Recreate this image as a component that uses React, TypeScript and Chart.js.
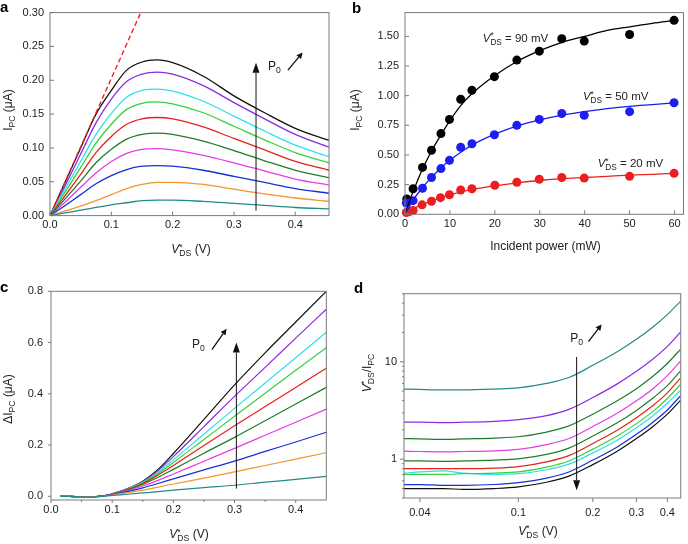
import React, { useEffect, useRef } from 'react';
import { Chart, registerables } from 'chart.js';
Chart.register(...registerables);

const FONT = '"Liberation Sans", Arial, Helvetica, sans-serif';
const TXT = '#222222';
const FRAME = '#7a7a7a';

const C_TEAL = '#238a8a';
const C_ORANGE = '#f5952a';
const C_BLUE = '#1530d6';
const C_MAGENTA = '#e63ce6';
const C_DKGREEN = '#1f7d28';
const C_RED = '#e3221c';
const C_GREEN = '#35d23c';
const C_CYAN = '#2ee0ea';
const C_PURPLE = '#8a2be2';
const C_BLACK = '#111111';

// ---------- panel a ----------
const A_X = [0, 0.025, 0.05, 0.075, 0.1, 0.125, 0.15, 0.175, 0.2, 0.25, 0.3, 0.35, 0.4, 0.455];
const A_TEAL = [0, 0.004, 0.008, 0.012, 0.016, 0.019, 0.022, 0.023, 0.023, 0.021, 0.018, 0.015, 0.012, 0.010];
const A_ORANGE = [0, 0.007, 0.014, 0.022, 0.031, 0.040, 0.046, 0.049, 0.049, 0.046, 0.039, 0.032, 0.026, 0.021];
const A_BLUE = [0, 0.015, 0.031, 0.047, 0.059, 0.068, 0.073, 0.074, 0.073, 0.067, 0.058, 0.049, 0.040, 0.033];
const A_MAGENTA = [0, 0.020, 0.042, 0.063, 0.080, 0.092, 0.098, 0.099, 0.097, 0.089, 0.078, 0.066, 0.054, 0.045];
const A_DKGREEN = [0, 0.025, 0.051, 0.078, 0.098, 0.113, 0.120, 0.122, 0.120, 0.110, 0.096, 0.081, 0.067, 0.056];
const A_RED = [0, 0.030, 0.061, 0.093, 0.117, 0.135, 0.143, 0.145, 0.143, 0.131, 0.114, 0.097, 0.080, 0.067];
const A_GREEN = [0, 0.035, 0.071, 0.107, 0.135, 0.157, 0.166, 0.168, 0.165, 0.152, 0.132, 0.112, 0.093, 0.078];
const A_CYAN = [0, 0.040, 0.080, 0.120, 0.151, 0.175, 0.185, 0.187, 0.184, 0.169, 0.147, 0.125, 0.104, 0.087];
const A_PURPLE = [0, 0.045, 0.091, 0.137, 0.172, 0.198, 0.209, 0.212, 0.209, 0.192, 0.167, 0.143, 0.120, 0.101];
const A_BLACK = [0, 0.050, 0.100, 0.150, 0.185, 0.215, 0.227, 0.230, 0.226, 0.206, 0.177, 0.152, 0.129, 0.111];
const A_DASH_X = [0, 0.148];
const A_DASH_Y = [0, 0.30];
const A_XTICKS = [0, 0.1, 0.2, 0.3, 0.4];
const A_YTICKS = [0, 0.05, 0.1, 0.15, 0.2, 0.25, 0.3];

// ---------- panel b ----------
const B_P_BLACK = [0.4, 1.8, 3.9, 5.9, 8, 9.9, 12.4, 14.9, 19.9, 24.9, 29.9, 34.9, 39.9, 50, 59.9];
const B_I_BLACK = [0.13, 0.215, 0.395, 0.54, 0.68, 0.80, 0.97, 1.045, 1.16, 1.30, 1.375, 1.48, 1.46, 1.515, 1.635];
const B_P_BLUE = [0.3, 1.8, 3.9, 5.9, 8, 9.9, 12.4, 14.9, 19.9, 24.9, 29.9, 34.9, 39.9, 50, 59.9];
const B_I_BLUE = [0.095, 0.115, 0.22, 0.31, 0.385, 0.455, 0.565, 0.595, 0.67, 0.75, 0.80, 0.85, 0.835, 0.865, 0.94];
const B_P_RED = [0.3, 1.0, 1.8, 3.8, 5.9, 7.9, 9.9, 12.4, 14.9, 20, 24.9, 29.9, 34.9, 39.9, 50, 59.9];
const B_I_RED = [0.015, 0.022, 0.032, 0.08, 0.11, 0.14, 0.165, 0.205, 0.215, 0.245, 0.27, 0.295, 0.31, 0.305, 0.32, 0.345];
const B_FIT_X = [0, 1, 2, 4, 6, 8, 10, 12.5, 15, 20, 25, 30, 35, 40, 45, 50, 55, 60];
const B_FIT_BLACK = [0, 0.11, 0.21, 0.39, 0.54, 0.67, 0.79, 0.92, 1.02, 1.17, 1.29, 1.38, 1.45, 1.50, 1.55, 1.58, 1.61, 1.635];
const B_FIT_BLUE = [0, 0.065, 0.13, 0.23, 0.315, 0.39, 0.455, 0.525, 0.585, 0.675, 0.745, 0.795, 0.835, 0.865, 0.89, 0.91, 0.925, 0.94];
const B_FIT_RED = [0, 0.027, 0.05, 0.085, 0.115, 0.14, 0.163, 0.19, 0.21, 0.24, 0.265, 0.285, 0.30, 0.31, 0.32, 0.33, 0.337, 0.345];
const B_XTICKS = [0, 10, 20, 30, 40, 50, 60];
const B_YTICKS = [0, 0.25, 0.5, 0.75, 1.0, 1.25, 1.5];

// ---------- panel c ----------
const C_X = [0.015, 0.03, 0.05, 0.07, 0.09, 0.1, 0.125, 0.15, 0.175, 0.2, 0.25, 0.3, 0.35, 0.4, 0.45];
const C_TEALV = [0, 0, -0.003, -0.002, 0.001, 0.003, 0.008, 0.013, 0.018, 0.024, 0.034, 0.043, 0.055, 0.066, 0.078];
const C_ORANGEV = [0, 0, -0.003, -0.002, 0.002, 0.005, 0.014, 0.024, 0.036, 0.048, 0.071, 0.095, 0.120, 0.145, 0.170];
const C_BLUEV = [0, 0, -0.003, -0.002, 0.003, 0.006, 0.018, 0.033, 0.050, 0.068, 0.103, 0.137, 0.175, 0.212, 0.250];
const C_MAGENTAV = [0, 0, -0.003, -0.002, 0.003, 0.007, 0.021, 0.040, 0.062, 0.087, 0.137, 0.187, 0.238, 0.289, 0.340];
const C_DKGREENV = [0, 0, -0.003, -0.002, 0.003, 0.008, 0.024, 0.046, 0.074, 0.105, 0.168, 0.230, 0.295, 0.360, 0.425];
const C_REDV = [0, 0, -0.003, -0.002, 0.004, 0.008, 0.026, 0.050, 0.083, 0.120, 0.198, 0.275, 0.350, 0.425, 0.500];
const C_GREENV = [0, 0, -0.003, -0.002, 0.004, 0.009, 0.027, 0.053, 0.089, 0.132, 0.222, 0.312, 0.402, 0.492, 0.580];
const C_CYANV = [0, 0, -0.003, -0.002, 0.004, 0.009, 0.028, 0.055, 0.094, 0.142, 0.243, 0.343, 0.442, 0.541, 0.640];
const C_PURPLEV = [0, 0, -0.003, -0.002, 0.004, 0.010, 0.029, 0.057, 0.100, 0.155, 0.272, 0.390, 0.503, 0.617, 0.730];
const C_BLACKV = [0, 0, -0.003, -0.002, 0.004, 0.010, 0.030, 0.059, 0.105, 0.167, 0.300, 0.435, 0.560, 0.680, 0.800];
const C_XTICKS = [0, 0.1, 0.2, 0.3, 0.4];
const C_XMINOR = [0.05, 0.15, 0.25, 0.35];
const C_YTICKS = [0, 0.2, 0.4, 0.6, 0.8];

// ---------- panel d ----------
const D_X = [0.0345, 0.04, 0.05, 0.06, 0.08, 0.1, 0.13, 0.16, 0.2, 0.25, 0.3, 0.35, 0.4, 0.453];
const D_TEAL = [5.25, 5.2, 5.15, 5.15, 5.25, 5.4, 6.0, 6.9, 9.2, 12.6, 17.0, 22.8, 30.5, 42.0];
const D_PURPLE = [2.4, 2.4, 2.38, 2.4, 2.45, 2.55, 2.8, 3.25, 4.3, 5.9, 8.0, 10.7, 14.4, 20.3];
const D_DKGREEN1 = [1.63, 1.62, 1.6, 1.62, 1.65, 1.7, 1.9, 2.2, 2.9, 3.95, 5.3, 7.1, 9.6, 13.5];
const D_MAGENTA = [1.21, 1.2, 1.19, 1.2, 1.22, 1.26, 1.41, 1.63, 2.17, 2.95, 3.98, 5.3, 7.2, 10.2];
const D_DKGREEN2 = [0.96, 0.96, 0.95, 0.96, 0.98, 1.01, 1.12, 1.3, 1.73, 2.35, 3.17, 4.25, 5.7, 8.1];
const D_RED = [0.8, 0.8, 0.8, 0.8, 0.81, 0.84, 0.94, 1.09, 1.45, 1.97, 2.66, 3.56, 4.8, 6.85];
const D_GREEN = [0.7, 0.7, 0.7, 0.71, 0.72, 0.74, 0.83, 0.96, 1.27, 1.72, 2.32, 3.1, 4.2, 5.9];
const D_CYAN = [0.72, 0.74, 0.76, 0.72, 0.70, 0.71, 0.78, 0.89, 1.16, 1.56, 2.1, 2.8, 3.75, 5.1];
const D_BLUE = [0.55, 0.55, 0.54, 0.54, 0.55, 0.575, 0.64, 0.74, 0.98, 1.33, 1.8, 2.4, 3.2, 4.5];
const D_BLACK = [0.5, 0.5, 0.5, 0.49, 0.5, 0.52, 0.58, 0.67, 0.88, 1.2, 1.63, 2.17, 2.9, 4.05];
const D_XTICKS = [0.04, 0.1, 0.2, 0.3, 0.4];
const D_YTICKS = [1, 10];
const D_YMINOR = [0.4, 0.5, 0.6, 0.7, 0.8, 0.9, 2, 3, 4, 5, 6, 7, 8, 9, 20, 30, 40, 50];

// ---------- helpers ----------
type Seg = { t?: string; it?: boolean; sub?: string; sup?: string };

function font(size: number, it?: boolean, bold?: boolean) {
  return `${it ? 'italic ' : ''}${bold ? 'bold ' : ''}${size}px ${FONT}`;
}

function richWidth(ctx: CanvasRenderingContext2D, segs: Seg[], size: number) {
  let w = 0;
  for (const s of segs) {
    if (s.t !== undefined) {
      ctx.font = font(size, s.it);
      w += ctx.measureText(s.t).width;
    } else {
      ctx.font = font(size * 0.72);
      w += Math.max(s.sub ? ctx.measureText(s.sub).width : 0, s.sup ? ctx.measureText(s.sup).width : 0);
    }
  }
  return w;
}

function drawRich(ctx: CanvasRenderingContext2D, segs: Seg[], x: number, y: number, size: number, align: 'left' | 'center', rot = 0) {
  ctx.save();
  ctx.translate(x, y);
  if (rot) ctx.rotate(rot);
  ctx.fillStyle = TXT;
  ctx.textAlign = 'left';
  ctx.textBaseline = 'alphabetic';
  const total = richWidth(ctx, segs, size);
  let cx = align === 'center' ? -total / 2 : 0;
  const base = size * 0.36;
  for (const s of segs) {
    if (s.t !== undefined) {
      ctx.font = font(size, s.it);
      ctx.fillText(s.t, cx, base);
      cx += ctx.measureText(s.t).width;
    } else {
      ctx.font = font(size * 0.72);
      let w = 0;
      if (s.sup) {
        ctx.fillText(s.sup, cx, base - size * 0.28);
        w = Math.max(w, ctx.measureText(s.sup).width);
      }
      if (s.sub) {
        ctx.fillText(s.sub, cx, base + size * 0.26);
        w = Math.max(w, ctx.measureText(s.sub).width);
      }
      cx += w;
    }
  }
  ctx.restore();
}

function arrow(ctx: CanvasRenderingContext2D, x1: number, y1: number, x2: number, y2: number, head: number, hw: number, lw: number) {
  const ang = Math.atan2(y2 - y1, x2 - x1);
  const bx = x2 - head * Math.cos(ang);
  const by = y2 - head * Math.sin(ang);
  ctx.save();
  ctx.strokeStyle = '#111';
  ctx.fillStyle = '#111';
  ctx.lineWidth = lw;
  ctx.beginPath();
  ctx.moveTo(x1, y1);
  ctx.lineTo(bx, by);
  ctx.stroke();
  ctx.beginPath();
  ctx.moveTo(x2, y2);
  ctx.lineTo(bx + hw * Math.sin(ang), by - hw * Math.cos(ang));
  ctx.lineTo(bx - hw * Math.sin(ang), by + hw * Math.cos(ang));
  ctx.closePath();
  ctx.fill();
  ctx.restore();
}

type FrameOpt = { xT: number[]; yT: number[]; xMinor?: number[]; yMinor?: number[]; inward: boolean; len: number; mlen: number };

function drawFrame(chart: any, ctx: CanvasRenderingContext2D, o: FrameOpt) {
  const a = chart.chartArea;
  const xs = chart.scales.x;
  const ys = chart.scales.y;
  ctx.save();
  ctx.strokeStyle = FRAME;
  ctx.lineWidth = 1;
  ctx.strokeRect(a.left, a.top, a.right - a.left, a.bottom - a.top);
  const d = o.inward ? -1 : 1;
  ctx.beginPath();
  for (const v of o.xT) {
    const p = xs.getPixelForValue(v);
    ctx.moveTo(p, a.bottom);
    ctx.lineTo(p, a.bottom + d * o.len);
  }
  for (const v of o.yT) {
    const p = ys.getPixelForValue(v);
    ctx.moveTo(a.left, p);
    ctx.lineTo(a.left - d * o.len, p);
  }
  for (const v of o.xMinor || []) {
    const p = xs.getPixelForValue(v);
    ctx.moveTo(p, a.bottom);
    ctx.lineTo(p, a.bottom + d * o.mlen);
  }
  for (const v of o.yMinor || []) {
    const p = ys.getPixelForValue(v);
    ctx.moveTo(a.left, p);
    ctx.lineTo(a.left - d * o.mlen, p);
  }
  ctx.stroke();
  ctx.restore();
}

function pts(xs: number[], ys: number[]) {
  return xs.map((x, i) => ({ x, y: ys[i] }));
}

function lineSets(xs: number[], series: { data: number[]; color: string }[], width: number) {
  return series.map((s) => ({
    data: pts(xs, s.data),
    borderColor: s.color,
    backgroundColor: s.color,
    borderWidth: width,
    pointRadius: 0,
    cubicInterpolationMode: 'monotone',
    fill: false,
  }));
}

function axis(type: string, min: number, max: number, ticks: number[], fmt: (v: number) => string, fixed: { w?: number; h?: number }, pad: number) {
  return {
    type,
    min,
    max,
    grid: { display: false, drawTicks: false },
    border: { display: false },
    afterBuildTicks: (ax: any) => {
      ax.ticks = ticks.map((v) => ({ value: v }));
    },
    afterFit: (ax: any) => {
      if (fixed.w) ax.width = fixed.w;
      if (fixed.h) ax.height = fixed.h;
    },
    ticks: {
      font: { family: FONT, size: 11 },
      color: TXT,
      padding: pad,
      maxRotation: 0,
      minRotation: 0,
      autoSkip: false,
      callback: (v: any) => fmt(Number(v)),
    },
  };
}

function baseOptions(padding: any, scales: any) {
  return {
    responsive: false,
    animation: false,
    devicePixelRatio: 1,
    layout: { padding },
    plugins: { legend: { display: false }, tooltip: { enabled: false } },
    scales,
  };
}

function deco(id: string, draw: (chart: any, ctx: CanvasRenderingContext2D, X: (v: number) => number, Y: (v: number) => number) => void) {
  return {
    id,
    afterDatasetsDraw(chart: any) {
      const ctx = chart.ctx as CanvasRenderingContext2D;
      ctx.save();
      draw(chart, ctx, (v) => chart.scales.x.getPixelForValue(v), (v) => chart.scales.y.getPixelForValue(v));
      ctx.restore();
    },
  };
}

function panelLetter(ctx: CanvasRenderingContext2D, s: string, x: number, y: number) {
  ctx.save();
  ctx.font = font(15, false, true);
  ctx.fillStyle = '#000';
  ctx.textAlign = 'left';
  ctx.textBaseline = 'alphabetic';
  ctx.fillText(s, x, y);
  ctx.restore();
}

const VDS: Seg[] = [{ t: 'V', it: true }, { sup: '*', sub: 'DS' }];
const P0: Seg[] = [{ t: 'P' }, { sub: '0' }];

// ---------- configs ----------
function configA(): any {
  const series = [
    { data: A_TEAL, color: C_TEAL },
    { data: A_ORANGE, color: C_ORANGE },
    { data: A_BLUE, color: C_BLUE },
    { data: A_MAGENTA, color: C_MAGENTA },
    { data: A_DKGREEN, color: C_DKGREEN },
    { data: A_RED, color: C_RED },
    { data: A_GREEN, color: C_GREEN },
    { data: A_CYAN, color: C_CYAN },
    { data: A_PURPLE, color: C_PURPLE },
    { data: A_BLACK, color: C_BLACK },
  ];
  return {
    type: 'line',
    data: {
      datasets: [
        {
          data: pts(A_DASH_X, A_DASH_Y),
          borderColor: '#e8262a',
          borderDash: [5, 3],
          borderWidth: 1.4,
          pointRadius: 0,
        },
        ...lineSets(A_X, series, 1.3),
      ],
    },
    options: baseOptions({ left: 6, top: 12.3, right: 15, bottom: 34.4 }, {
      x: axis('linear', 0, 0.455, A_XTICKS, (v) => v.toFixed(1), { h: 22 }, 3),
      y: axis('linear', 0, 0.3, A_YTICKS, (v) => v.toFixed(2), { w: 44 }, 6),
    }),
    plugins: [
      deco('decoA', (chart, ctx, X, Y) => {
        drawFrame(chart, ctx, { xT: A_XTICKS, yT: A_YTICKS, inward: true, len: 4, mlen: 2 });
        arrow(ctx, X(0.336), Y(0.0074), X(0.336), Y(0.226), 10, 3.5, 1);
        drawRich(ctx, P0, X(0.366), Y(0.222), 12, 'center');
        arrow(ctx, X(0.388), Y(0.215), X(0.412), Y(0.241), 6, 3, 1.3);
        drawRich(ctx, [{ t: 'I' }, { sub: 'PC' }, { t: ' (μA)' }], 8, 110, 12, 'center', -Math.PI / 2);
        drawRich(ctx, [...VDS, { t: ' (V)' }], 191, 249, 12, 'center');
        panelLetter(ctx, 'a', 0, 12);
      }),
    ],
  };
}

function configB(): any {
  const lineStyle = (c: string) => ({ showLine: true, borderColor: c, borderWidth: 1.3, pointRadius: 0, cubicInterpolationMode: 'monotone' });
  const dotStyle = (c: string) => ({ showLine: false, backgroundColor: c, borderColor: c, pointRadius: 4.5, pointBorderWidth: 0, clip: false });
  return {
    type: 'scatter',
    data: {
      datasets: [
        { data: pts(B_FIT_X, B_FIT_RED), ...lineStyle('#e8201e') },
        { data: pts(B_FIT_X, B_FIT_BLUE), ...lineStyle('#1c1ce8') },
        { data: pts(B_FIT_X, B_FIT_BLACK), ...lineStyle('#000') },
        { data: pts(B_P_RED, B_I_RED), ...dotStyle('#ee1c22') },
        { data: pts(B_P_BLUE, B_I_BLUE), ...dotStyle('#1e1ef0') },
        { data: pts(B_P_BLACK, B_I_BLACK), ...dotStyle('#000') },
      ],
    },
    options: baseOptions({ left: 17, top: 12.3, right: 1, bottom: 35.7 }, {
      x: axis('linear', 0, 62, B_XTICKS, (v) => String(v), { h: 22 }, 3),
      y: axis('linear', 0, 1.7, B_YTICKS, (v) => v.toFixed(2), { w: 44 }, 6),
    }),
    plugins: [
      deco('decoB', (chart, ctx, X, Y) => {
        drawFrame(chart, ctx, { xT: B_XTICKS, yT: B_YTICKS, inward: true, len: 4, mlen: 2 });
        drawRich(ctx, [...VDS, { t: ' = 90 mV' }], X(17.3), Y(1.49), 11.5, 'left');
        drawRich(ctx, [...VDS, { t: ' = 50 mV' }], X(39.6), Y(1.0), 11.5, 'left');
        drawRich(ctx, [...VDS, { t: ' = 20 mV' }], X(42.9), Y(0.43), 11.5, 'left');
        drawRich(ctx, [{ t: 'I' }, { sub: 'PC' }, { t: ' (μA)' }], 11, 110, 12, 'center', -Math.PI / 2);
        drawRich(ctx, [{ t: 'Incident power (mW)' }], 201.5, 246, 12, 'center');
        panelLetter(ctx, 'b', 8, 12.5);
      }),
    ],
  };
}

function configC(): any {
  const series = [
    { data: C_TEALV, color: C_TEAL },
    { data: C_ORANGEV, color: C_ORANGE },
    { data: C_BLUEV, color: C_BLUE },
    { data: C_MAGENTAV, color: C_MAGENTA },
    { data: C_DKGREENV, color: C_DKGREEN },
    { data: C_REDV, color: C_RED },
    { data: C_GREENV, color: C_GREEN },
    { data: C_CYANV, color: C_CYAN },
    { data: C_PURPLEV, color: C_PURPLE },
    { data: C_BLACKV, color: C_BLACK },
  ];
  return {
    type: 'line',
    data: { datasets: lineSets(C_X, series, 1.2) },
    options: baseOptions({ left: 7, top: 19.3, right: 17.7, bottom: 22 }, {
      x: axis('linear', 0, 0.45, C_XTICKS, (v) => v.toFixed(1), { h: 22 }, 3),
      y: axis('linear', -0.0145, 0.8, C_YTICKS, (v) => v.toFixed(1), { w: 44 }, 8),
    }),
    plugins: [
      deco('decoC', (chart, ctx, X, Y) => {
        drawFrame(chart, ctx, { xT: C_XTICKS, yT: C_YTICKS, xMinor: C_XMINOR, inward: false, len: 3, mlen: 2 });
        arrow(ctx, X(0.303), Y(0.03), X(0.303), Y(0.6), 10, 3.5, 1);
        drawRich(ctx, P0, X(0.241), Y(0.597), 12, 'center');
        arrow(ctx, X(0.263), Y(0.572), X(0.287), Y(0.654), 6, 3, 1.3);
        drawRich(ctx, [{ t: 'ΔI' }, { sub: 'PC' }, { t: ' (μA)' }], 8, 127, 12, 'center', -Math.PI / 2);
        drawRich(ctx, [...VDS, { t: ' (V)' }], 189, 262, 12, 'center');
        panelLetter(ctx, 'c', 0, 20);
      }),
    ],
  };
}

function configD(): any {
  const series = [
    { data: D_TEAL, color: C_TEAL },
    { data: D_PURPLE, color: C_PURPLE },
    { data: D_DKGREEN1, color: C_DKGREEN },
    { data: D_MAGENTA, color: C_MAGENTA },
    { data: D_DKGREEN2, color: C_DKGREEN },
    { data: D_RED, color: C_RED },
    { data: D_GREEN, color: C_GREEN },
    { data: D_CYAN, color: C_CYAN },
    { data: D_BLUE, color: C_BLUE },
    { data: D_BLACK, color: C_BLACK },
  ];
  return {
    type: 'line',
    data: { datasets: lineSets(D_X, series, 1.2) },
    options: baseOptions({ left: 16, top: 21.7, right: 7.3, bottom: 24 }, {
      x: axis('logarithmic', 0.0345, 0.453, D_XTICKS, (v) => String(v), { h: 22 }, 8),
      y: axis('logarithmic', 0.4, 50, D_YTICKS, (v) => String(v), { w: 44 }, 7),
    }),
    plugins: [
      deco('decoD', (chart, ctx, X, Y) => {
        drawFrame(chart, ctx, { xT: D_XTICKS, yT: D_YTICKS, yMinor: D_YMINOR, inward: false, len: 4, mlen: 2 });
        arrow(ctx, X(0.172), Y(11.2), X(0.172), Y(0.48), 10, 3.5, 1);
        drawRich(ctx, P0, X(0.172), Y(17.6), 12, 'center');
        arrow(ctx, X(0.192), Y(16.1), X(0.217), Y(24.2), 6, 3, 1.3);
        drawRich(ctx, [...VDS, { t: '/I' }, { sub: 'PC' }], 22.5, 101, 12, 'center', -Math.PI / 2);
        drawRich(ctx, [...VDS, { t: ' (V)' }], 194, 258.5, 12, 'center');
        panelLetter(ctx, 'd', 10, 20.7);
      }),
    ],
  };
}

function Panel({ left, top, make }: { left: number; top: number; make: () => any }) {
  const ref = useRef<HTMLCanvasElement>(null);
  useEffect(() => {
    const chart = new Chart(ref.current as HTMLCanvasElement, make());
    return () => chart.destroy();
  }, []);
  return (
    <canvas
      ref={ref}
      width={344}
      height={272}
      style={{ position: 'absolute', left, top, width: 344, height: 272 }}
    />
  );
}

export default function App() {
  return (
    <div style={{ position: 'absolute', left: 0, top: 0, width: 688, height: 544, background: '#fff', overflow: 'hidden' }}>
      <Panel left={0} top={0} make={configA} />
      <Panel left={344} top={0} make={configB} />
      <Panel left={0} top={272} make={configC} />
      <Panel left={344} top={272} make={configD} />
    </div>
  );
}
